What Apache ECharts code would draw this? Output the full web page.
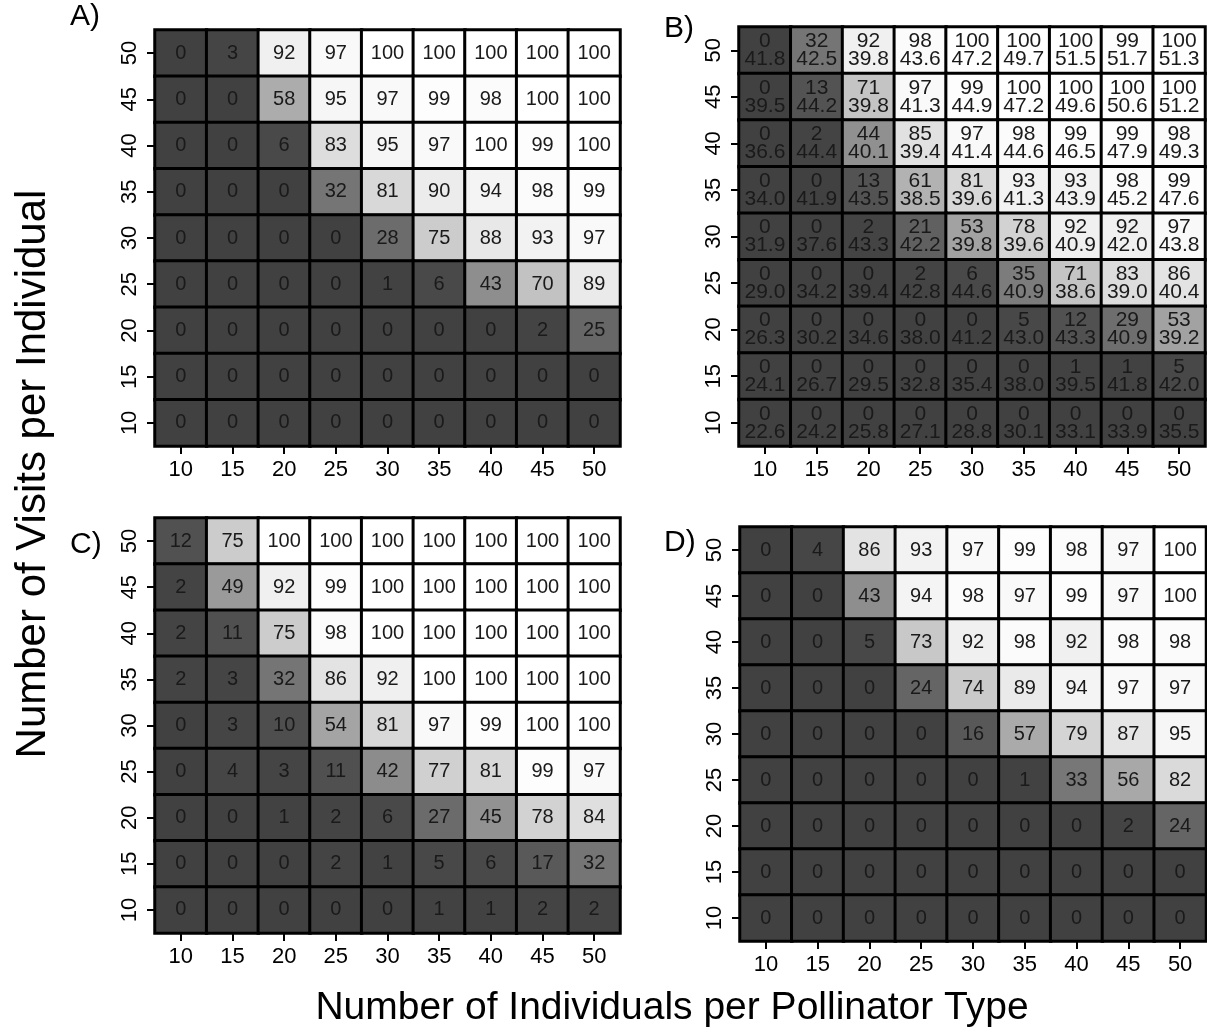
<!DOCTYPE html>
<html>
<head>
<meta charset="utf-8">
<script src="https://cdn.jsdelivr.net/npm/echarts@6/dist/echarts.min.js"></script>
<style>
  html, body { margin: 0; padding: 0; background: #fff; }
  #chart { width: 1207px; height: 1036px; }
</style>
</head>
<body>
<div id="chart"></div>
<script>
  // number of individuals per pollinator type (columns) and visits per individual (rows)
  var individuals = ['10', '15', '20', '25', '30', '35', '40', '45', '50'];
  var visits = ['10', '15', '20', '25', '30', '35', '40', '45', '50'];

  // rows are listed from top (50 visits) down to bottom (10 visits)
  var panelA = [
    [0, 3, 92, 97, 100, 100, 100, 100, 100],
    [0, 0, 58, 95, 97, 99, 98, 100, 100],
    [0, 0, 6, 83, 95, 97, 100, 99, 100],
    [0, 0, 0, 32, 81, 90, 94, 98, 99],
    [0, 0, 0, 0, 28, 75, 88, 93, 97],
    [0, 0, 0, 0, 1, 6, 43, 70, 89],
    [0, 0, 0, 0, 0, 0, 0, 2, 25],
    [0, 0, 0, 0, 0, 0, 0, 0, 0],
    [0, 0, 0, 0, 0, 0, 0, 0, 0]
  ];

  var panelB = [
    [0, 32, 92, 98, 100, 100, 100, 99, 100],
    [0, 13, 71, 97, 99, 100, 100, 100, 100],
    [0, 2, 44, 85, 97, 98, 99, 99, 98],
    [0, 0, 13, 61, 81, 93, 93, 98, 99],
    [0, 0, 2, 21, 53, 78, 92, 92, 97],
    [0, 0, 0, 2, 6, 35, 71, 83, 86],
    [0, 0, 0, 0, 0, 5, 12, 29, 53],
    [0, 0, 0, 0, 0, 0, 1, 1, 5],
    [0, 0, 0, 0, 0, 0, 0, 0, 0]
  ];

  // second number printed in each B cell
  var panelBSecond = [
    ['41.8', '42.5', '39.8', '43.6', '47.2', '49.7', '51.5', '51.7', '51.3'],
    ['39.5', '44.2', '39.8', '41.3', '44.9', '47.2', '49.6', '50.6', '51.2'],
    ['36.6', '44.4', '40.1', '39.4', '41.4', '44.6', '46.5', '47.9', '49.3'],
    ['34.0', '41.9', '43.5', '38.5', '39.6', '41.3', '43.9', '45.2', '47.6'],
    ['31.9', '37.6', '43.3', '42.2', '39.8', '39.6', '40.9', '42.0', '43.8'],
    ['29.0', '34.2', '39.4', '42.8', '44.6', '40.9', '38.6', '39.0', '40.4'],
    ['26.3', '30.2', '34.6', '38.0', '41.2', '43.0', '43.3', '40.9', '39.2'],
    ['24.1', '26.7', '29.5', '32.8', '35.4', '38.0', '39.5', '41.8', '42.0'],
    ['22.6', '24.2', '25.8', '27.1', '28.8', '30.1', '33.1', '33.9', '35.5']
  ];

  var panelC = [
    [12, 75, 100, 100, 100, 100, 100, 100, 100],
    [2, 49, 92, 99, 100, 100, 100, 100, 100],
    [2, 11, 75, 98, 100, 100, 100, 100, 100],
    [2, 3, 32, 86, 92, 100, 100, 100, 100],
    [0, 3, 10, 54, 81, 97, 99, 100, 100],
    [0, 4, 3, 11, 42, 77, 81, 99, 97],
    [0, 0, 1, 2, 6, 27, 45, 78, 84],
    [0, 0, 0, 2, 1, 5, 6, 17, 32],
    [0, 0, 0, 0, 0, 1, 1, 2, 2]
  ];

  var panelD = [
    [0, 4, 86, 93, 97, 99, 98, 97, 100],
    [0, 0, 43, 94, 98, 97, 99, 97, 100],
    [0, 0, 5, 73, 92, 98, 92, 98, 98],
    [0, 0, 0, 24, 74, 89, 94, 97, 97],
    [0, 0, 0, 0, 16, 57, 79, 87, 95],
    [0, 0, 0, 0, 0, 1, 33, 56, 82],
    [0, 0, 0, 0, 0, 0, 0, 2, 24],
    [0, 0, 0, 0, 0, 0, 0, 0, 0],
    [0, 0, 0, 0, 0, 0, 0, 0, 0]
  ];

  var FONT = '"Liberation Sans", Arial, Helvetica, sans-serif';

  function toCells(rows) {
    var out = [];
    var n = rows.length;
    for (var r = 0; r < n; r++) {
      for (var c = 0; c < rows[r].length; c++) {
        // y index 0 is the bottom row (10 visits)
        out.push([c, n - 1 - r, rows[r][c]]);
      }
    }
    return out;
  }

  var grids = [
    {left: 155, top: 30, width: 465, height: 416},
    {left: 739, top: 27, width: 466, height: 419},
    {left: 155, top: 518, width: 465, height: 415},
    {left: 740, top: 527, width: 466, height: 414}
  ];

  var xAxes = [], yAxes = [];
  for (var i = 0; i < 4; i++) {
    xAxes.push({
      type: 'category', gridIndex: i, data: individuals,
      axisLine: {show: false},
      axisTick: {show: true, alignWithLabel: true, length: 8, lineStyle: {color: '#000', width: 2}},
      axisLabel: {color: '#000', fontSize: 22, fontFamily: FONT, margin: 13},
      splitLine: {show: false}
    });
    yAxes.push({
      type: 'category', gridIndex: i, data: visits,
      axisLine: {show: false},
      axisTick: {show: true, alignWithLabel: true, length: 8, lineStyle: {color: '#000', width: 2}},
      axisLabel: {color: '#000', fontSize: 22, fontFamily: FONT, rotate: 90, margin: 14},
      splitLine: {show: false}
    });
  }

  function heat(idx, rows, labelOpt) {
    return {
      type: 'heatmap',
      xAxisIndex: idx, yAxisIndex: idx,
      data: toCells(rows),
      itemStyle: {borderColor: '#000', borderWidth: 3},
      label: Object.assign({
        show: true, color: '#1a1a1a', fontSize: 20, fontFamily: FONT
      }, labelOpt || {}),
      emphasis: {disabled: true}
    };
  }

  var nRows = panelBSecond.length;
  var option = {
    animation: false,
    backgroundColor: '#fff',
    grid: grids,
    xAxis: xAxes,
    yAxis: yAxes,
    visualMap: {
      show: false, type: 'continuous', min: 0, max: 100, seriesIndex: [0, 1, 2, 3],
      inRange: {color: ['#414141', '#4e4e4e', '#5e5e5e', '#707070', '#888888', '#9c9c9c',
                        '#b0b0b0', '#c2c2c2', '#d6d6d6', '#ececec', '#ffffff']}
    },
    series: [
      heat(0, panelA),
      heat(1, panelB, {
        fontSize: 21, lineHeight: 18,
        formatter: function (p) {
          return p.value[2] + '\n' + panelBSecond[nRows - 1 - p.value[1]][p.value[0]];
        }
      }),
      heat(2, panelC),
      heat(3, panelD)
    ],
    graphic: [
      {type: 'text', left: 70, top: 2, style: {text: 'A)', font: '30px ' + FONT, fill: '#000'}},
      {type: 'text', left: 664, top: 14, style: {text: 'B)', font: '30px ' + FONT, fill: '#000'}},
      {type: 'text', left: 70, top: 530, style: {text: 'C)', font: '30px ' + FONT, fill: '#000'}},
      {type: 'text', left: 664, top: 528, style: {text: 'D)', font: '30px ' + FONT, fill: '#000'}},
      {type: 'text', x: 33, y: 474, rotation: Math.PI / 2,
       style: {text: 'Number of Visits per Individual', font: '42px ' + FONT, fill: '#000',
               textAlign: 'center', textVerticalAlign: 'middle'}},
      {type: 'text', x: 672, y: 1008,
       style: {text: 'Number of Individuals per Pollinator Type', font: '39px ' + FONT, fill: '#000',
               textAlign: 'center', textVerticalAlign: 'middle'}}
    ]
  };

  var chart = echarts.init(document.getElementById('chart'));
  chart.setOption(option);
</script>
</body>
</html>
